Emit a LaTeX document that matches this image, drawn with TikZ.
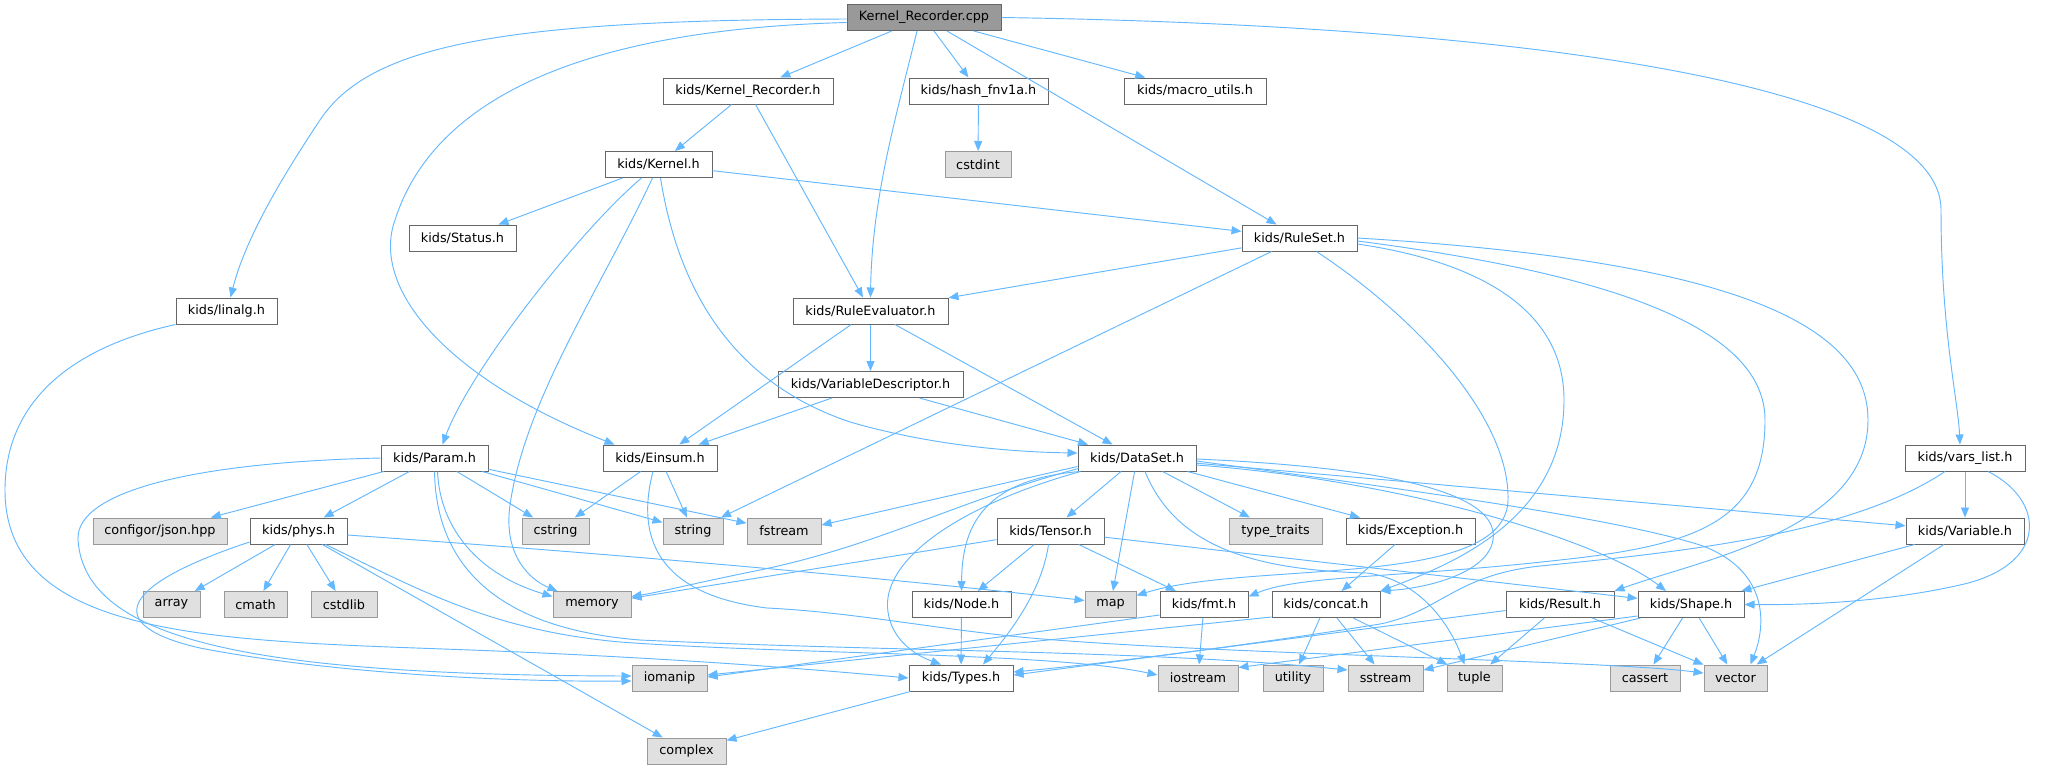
\documentclass[tikz,border=0pt]{standalone}
\usepackage{fontspec}
\setmainfont{DejaVu Sans}
\usetikzlibrary{arrows.meta,calc}
\definecolor{edgec}{HTML}{63B8FF}
\definecolor{bdr}{HTML}{666666}
\definecolor{sysfill}{HTML}{E0E0E0}
\definecolor{sysbdr}{HTML}{999999}
\definecolor{rootfill}{HTML}{999999}
\begin{document}
\begin{tikzpicture}[x=0.75pt,y=-0.75pt,
 hdr/.style={draw=bdr,fill=white,line width=0.75pt,minimum height=19.5pt,inner sep=0pt,font=\fontsize{9.6}{11}\selectfont},
 sys/.style={hdr,draw=sysbdr,fill=sysfill},
 rootbox/.style={hdr,fill=rootfill},
 dep/.style={draw=edgec,line width=0.7pt,-{Triangle[length=7.5pt,width=6pt]}}]
\fill[white] (0,0) rectangle (2049,769);
\useasboundingbox (0,0) rectangle (2049,769);
% row 0
\node[rootbox,minimum width=115.5pt] (root) at (924,17.5) {Kernel\_Recorder.cpp};
% row 1
\node[hdr,minimum width=127.5pt] (KRh) at (748,91) {kids/Kernel\_Recorder.h};
\node[hdr,minimum width=104.25pt] (hash) at (978.5,91) {kids/hash\_fnv1a.h};
\node[hdr,minimum width=106.5pt] (macro) at (1195,91) {kids/macro\_utils.h};
% row 2
\node[hdr,minimum width=80.25pt] (kernel) at (658.5,164.5) {kids/Kernel.h};
\node[sys,minimum width=49.5pt] (cstdint) at (978,164.5) {cstdint};
% row 3
\node[hdr,minimum width=80.25pt] (status) at (462.5,238) {kids/Status.h};
\node[hdr,minimum width=86.25pt] (ruleset) at (1299.5,238) {kids/RuleSet.h};
% row 4
\node[hdr,minimum width=75.75pt] (linalg) at (226.5,311) {kids/linalg.h};
\node[hdr,minimum width=116.25pt] (ruleeval) at (870.5,311) {kids/RuleEvaluator.h};
% row 5
\node[hdr,minimum width=138.75pt] (vardesc) at (870.5,384.5) {kids/VariableDescriptor.h};
% row 6
\node[hdr,minimum width=80.25pt] (param) at (434.5,458) {kids/Param.h};
\node[hdr,minimum width=85.5pt] (einsum) at (660,458) {kids/Einsum.h};
\node[hdr,minimum width=88.5pt] (dataset) at (1137,458) {kids/DataSet.h};
\node[hdr,minimum width=90pt] (varslist) at (1965,458) {kids/vars\_list.h};
% row 7
\node[sys,minimum width=100.5pt] (configor) at (160,531) {configor/json.hpp};
\node[hdr,minimum width=72.75pt] (phys) at (298.5,531) {kids/phys.h};
\node[sys,minimum width=50.25pt] (cstring) at (555.5,531) {cstring};
\node[sys,minimum width=45pt] (string) at (693,531) {string};
\node[sys,minimum width=55.5pt] (fstream) at (784,531) {fstream};
\node[hdr,minimum width=80.25pt] (tensor) at (1050.5,531) {kids/Tensor.h};
\node[sys,minimum width=69.75pt] (typetraits) at (1275.5,531) {type\_traits};
\node[hdr,minimum width=96.75pt] (exception) at (1410.5,531) {kids/Exception.h};
\node[hdr,minimum width=88.5pt] (variable) at (1965,531) {kids/Variable.h};
% row 8
\node[sys,minimum width=42.75pt] (array) at (171.5,604.5) {array};
\node[sys,minimum width=47.25pt] (cmath) at (255.5,604.5) {cmath};
\node[sys,minimum width=49.5pt] (cstdlib) at (344,604.5) {cstdlib};
\node[sys,minimum width=58.5pt] (memory) at (592,604.5) {memory};
\node[hdr,minimum width=74.25pt] (node) at (961.5,604.5) {kids/Node.h};
\node[sys,minimum width=38.25pt] (map) at (1110.5,604.5) {map};
\node[hdr,minimum width=66pt] (fmt) at (1204,604.5) {kids/fmt.h};
\node[hdr,minimum width=81pt] (concat) at (1326,604.5) {kids/concat.h};
\node[hdr,minimum width=81pt] (result) at (1560,604.5) {kids/Result.h};
\node[hdr,minimum width=79.5pt] (shape) at (1691,604.5) {kids/Shape.h};
% row 9
\node[sys,minimum width=56.25pt] (iomanip) at (669.5,678) {iomanip};
\node[hdr,minimum width=78pt] (types) at (961,678) {kids/Types.h};
\node[sys,minimum width=60pt] (iostream) at (1198,678) {iostream};
\node[sys,minimum width=45pt] (utility) at (1293,678) {utility};
\node[sys,minimum width=56.25pt] (sstream) at (1385.5,678) {sstream};
\node[sys,minimum width=41.25pt] (tuple) at (1474.5,678) {tuple};
\node[sys,minimum width=52.5pt] (cassert) at (1645,678) {cassert};
\node[sys,minimum width=47.25pt] (vector) at (1735.5,678) {vector};
% row 10
\node[sys,minimum width=59.25pt] (complex) at (686.5,751) {complex};

% ---- edges from root
\draw[dep] ($(root.west)+(0,1.5)$) .. controls (500,20) and (370,45) .. (320,120) .. controls (280,180) and (245,240) .. ($(linalg.north)+(4,0)$);
\draw[dep] ($(root.west)+(0,5)$) .. controls (560,30) and (430,110) .. (395,220) .. controls (370,290) and (450,380) .. ($(einsum.north west)+(12,0)$);
\draw[dep] (root) -- (KRh);
\draw[dep] ($(root.south)+(-7,0)$) .. controls (895,120) and (872,200) .. (ruleeval.north);
\draw[dep] (root) -- (hash);
\draw[dep] (root) -- (ruleset);
\draw[dep] (root) -- (macro);
\draw[dep] (root.east) .. controls (1500,25) and (1941,80) .. (1941,210) .. controls (1941,330) and (1958,400) .. ($(varslist.north)+(-5,0)$);
% ---- Kernel_Recorder.h, hash
\draw[dep] (KRh) -- (kernel);
\draw[dep] (KRh) -- (ruleeval);
\draw[dep] (hash) -- (cstdint);
% ---- Kernel.h
\draw[dep] (kernel) -- (status);
\draw[dep] (kernel) -- (ruleset);
\draw[dep] ($(kernel.south)+(-17,0)$) .. controls (580,230) and (470,370) .. ($(param.north)+(8,0)$);
\draw[dep] ($(kernel.south)+(-6,0)$) .. controls (600,290) and (525,400) .. (510,505) .. controls (503,555) and (530,580) .. ($(memory.north west)+(5,0)$);
\draw[dep] ($(kernel.south)+(2,0)$) .. controls (680,300) and (740,385) .. (850,422) .. controls (930,445) and (1010,452) .. ($(dataset.west)+(0,-5)$);
% ---- RuleSet.h
\draw[dep] (ruleset) -- (ruleeval);
\draw[dep] (ruleset) -- (string);
\draw[dep] ($(ruleset.south)+(17,0)$) .. controls (1420,320) and (1510,420) .. (1508,500) .. controls (1506,590) and (1250,560) .. ($(map.east)+(0,-9)$);
\draw[dep] ($(ruleset.east)+(0,6)$) .. controls (1480,262) and (1564,310) .. (1564,400) .. controls (1564,520) and (1450,565) .. (concat.north east);
\draw[dep] ($(ruleset.east)+(0,3)$) .. controls (1620,275) and (1765,330) .. (1765,420) .. controls (1765,520) and (1700,545) .. (1560,560) .. controls (1400,578) and (1300,575) .. ($(fmt.east)+(0,-8)$);
\draw[dep] (ruleset.east) .. controls (1720,260) and (1868,320) .. (1868,420) .. controls (1868,530) and (1700,560) .. (result.north east);
% ---- RuleEvaluator.h, VariableDescriptor.h
\draw[dep] (ruleeval) -- (einsum);
\draw[dep] (ruleeval) -- (vardesc);
\draw[dep] (ruleeval) -- (dataset);
\draw[dep] (vardesc) -- (einsum);
\draw[dep] (vardesc) -- (dataset);
% ---- linalg.h
\draw[dep] (linalg.south west) .. controls (60,350) and (5,410) .. (5,490) .. controls (5,650) and (250,640) .. (520,652) .. controls (700,660) and (820,670) .. (types.west);
% ---- Einsum.h
\draw[dep] (einsum) -- (cstring);
\draw[dep] (einsum) -- (string);
\draw[dep] ($(einsum.south)+(-7,0)$) .. controls (635,540) and (660,595) .. (767,608) .. controls (850,612) and (930,628) .. (1020,637) .. controls (1200,654) and (1600,660) .. ($(vector.west)+(0,-5)$);
% ---- Param.h
\draw[dep] (param.west) .. controls (200,462) and (75,490) .. (78,540) .. controls (85,640) and (250,675) .. ($(iomanip.west)+(0,-2)$);
\draw[dep] (param) -- (configor);
\draw[dep] (param) -- (phys);
\draw[dep] (param.south) .. controls (436,560) and (490,628) .. (640,640) .. controls (900,652) and (1150,650) .. ($(sstream.west)+(0,-8)$);
\draw[dep] ($(param.south)+(3,0)$) .. controls (440,530) and (480,575) .. ($(memory.west)+(0,-8)$);
\draw[dep] (param) -- (cstring);
\draw[dep] (param) -- (string);
\draw[dep] (param) -- (fstream);
% ---- phys.h
\draw[dep] ($(phys.west)+(0,11)$) .. controls (120,585) and (100,625) .. (200,648) .. controls (340,675) and (520,682) .. ($(iomanip.west)+(0,3)$);
\draw[dep] (phys) -- (array);
\draw[dep] (phys) -- (cmath);
\draw[dep] (phys) -- (cstdlib);
\draw[dep] (phys) -- (complex);
\draw[dep] ($(phys.south)+(27,0)$) .. controls (420,590) and (490,630) .. (620,642) .. controls (800,655) and (1050,652) .. ($(iostream.west)+(0,-3)$);
\draw[dep] ($(phys.east)+(0,4)$) .. controls (700,560) and (950,585) .. ($(map.west)+(0,-4)$);
% ---- Tensor.h
\draw[dep] (tensor) -- (memory);
\draw[dep] (tensor) -- (node);
\draw[dep] ($(tensor.south)+(-2,0)$) .. controls (1042,590) and (1012,630) .. ($(types.north)+(22,0)$);
\draw[dep] (tensor) -- (fmt);
\draw[dep] (tensor) -- (shape);
% ---- DataSet.h
\draw[dep] (dataset) -- (tensor);
\draw[dep] (dataset) -- (map);
\draw[dep] (dataset) -- (typetraits);
\draw[dep] (dataset) -- (exception);
\draw[dep] ($(dataset.south)+(8,0)$) .. controls (1175,545) and (1250,570) .. (1367,573) .. controls (1420,580) and (1450,625) .. ($(tuple.north)+(-10,0)$);
\draw[dep] (dataset) -- (variable);
\draw[dep] ($(dataset.east)+(0,7)$) .. controls (1400,480) and (1600,540) .. ($(shape.north)+(-25,0)$);
\draw[dep] ($(dataset.east)+(0,3)$) .. controls (1450,495) and (1620,520) .. (1700,545) .. controls (1765,568) and (1768,620) .. ($(vector.north)+(15,0)$);
\draw[dep] ($(dataset.east)+(0,1)$) .. controls (1400,468) and (1500,495) .. (1493,540) .. controls (1488,572) and (1430,588) .. (concat.north east);
\draw[dep] ($(dataset.south west)+(1,-3)$) .. controls (960,500) and (880,545) .. (760,570) .. controls (700,582) and (660,592) .. ($(memory.east)+(0,-8)$);
\draw[dep] ($(dataset.south west)+(0,-5)$) -- ($(fstream.east)+(0,-6)$);
\draw[dep] ($(dataset.south west)+(2,0)$) .. controls (980,480) and (962,530) .. (node.north);
\draw[dep] ($(dataset.south west)+(3,0)$) .. controls (960,505) and (880,560) .. (888,612) .. controls (892,640) and (915,655) .. ($(types.north)+(-20,0)$);
% ---- Exception.h, concat.h, fmt.h, Node.h, Types.h
\draw[dep] (exception) -- (concat);
\draw[dep] (concat) -- (utility);
\draw[dep] (concat) -- (sstream);
\draw[dep] (concat) -- (tuple);
\draw[dep] ($(concat.south west)+(0,-1)$) -- ($(iomanip.east)+(0,-3)$);
\draw[dep] ($(fmt.south west)+(0,-3)$) -- ($(iomanip.east)+(0,-1)$);
\draw[dep] (fmt) -- (iostream);
\draw[dep] (node) -- (types);
\draw[dep] (types) -- (complex);
% ---- Result.h, Shape.h
\draw[dep] (result) -- (tuple);
\draw[dep] (result) -- (vector);
\draw[dep] ($(result.west)+(0,6)$) -- ($(types.east)+(0,-3)$);
\draw[dep] (shape) -- (cassert);
\draw[dep] (shape) -- (vector);
\draw[dep] ($(shape.south west)+(3,0)$) -- ($(sstream.east)+(0,-8)$);
\draw[dep] ($(shape.south west)+(0,-2)$) -- ($(iostream.north east)+(0,3)$);
% ---- Variable.h, vars_list.h
\draw[dep] (variable) -- (shape);
\draw[dep] (variable) -- (vector);
\draw[dep] (varslist) -- (variable);
\draw[dep] ($(varslist.south)+(23,0)$) .. controls (2045,500) and (2050,565) .. (1960,585) .. controls (1880,603) and (1800,605) .. (shape.east);
\draw[dep] ($(varslist.south)+(-20,0)$) .. controls (1850,535) and (1680,552) .. (1540,566) .. controls (1455,575) and (1440,612) .. (1380,624) .. controls (1250,645) and (1100,664) .. ($(types.east)+(0,-6)$);
\end{tikzpicture}
\end{document}
